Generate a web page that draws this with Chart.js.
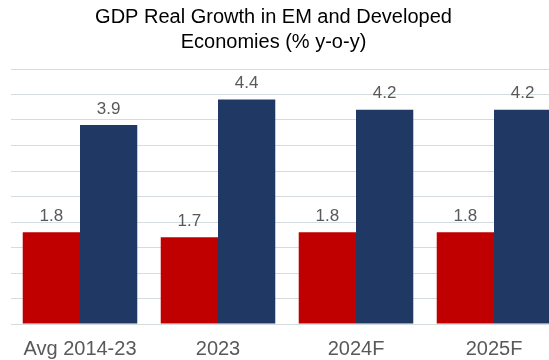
<!DOCTYPE html>
<html>
<head>
<meta charset="utf-8">
<script src="https://cdn.jsdelivr.net/npm/chart.js@4"></script>
<style>
  body{margin:0;overflow:hidden;background:#fff;}
  #wrap{width:608px;height:360px;}
</style>
</head>
<body>
<div id="wrap"><canvas id="myChart" width="608" height="360"></canvas></div>
<script>
const categorias=['Avg 2014-23','2023','2024F','2025F'];
const desarrolladas=[1.8,1.7,1.8,1.8];
const emergentes=[3.9,4.4,4.2,4.2];
const titulo=['GDP Real Growth in EM and Developed','Economies (% y-o-y)'];

//etiquetas sobre cada barra
const etiquetas={
    id:'etiquetas',
    afterDatasetsDraw(chart){
        const ctx=chart.ctx;
        ctx.save();
        ctx.font='17px "Liberation Sans", Arial, sans-serif';
        ctx.fillStyle='#595959';
        ctx.textAlign='center';
        ctx.textBaseline='middle';
        chart.data.datasets.forEach((ds,i)=>{
            chart.getDatasetMeta(i).data.forEach((bar,j)=>{
                ctx.fillText(ds.data[j].toFixed(1),bar.x,bar.y-16);
            });
        });
        ctx.restore();
    }
};

const ctx=document.getElementById('myChart');
const myChart=new Chart(ctx,{
    type:'bar',
    data:{
        labels:categorias,
        datasets:[{
            label:'Developed Economies',
            data:desarrolladas,
            backgroundColor:'#C00000',
            categoryPercentage:0.83,
            barPercentage:1
        },{
            label:'EM',
            data:emergentes,
            backgroundColor:'#203864',
            categoryPercentage:0.83,
            barPercentage:1
        }]
    },
    options:{
        responsive:false,
        animation:false,
        layout:{padding:{left:-16,right:45,top:0,bottom:-14}},
        plugins:{
            legend:{display:false},
            tooltip:{enabled:false},
            title:{
                display:true,
                text:titulo,
                color:'#000',
                font:{family:'"Liberation Sans", Arial, sans-serif',size:20,weight:'normal',lineHeight:1.25},
                padding:{top:5,bottom:14}
            }
        },
        scales:{
            x:{
                grid:{display:false,drawTicks:false},
                border:{display:false},
                ticks:{
                    color:'#595959',
                    font:{family:'"Liberation Sans", Arial, sans-serif',size:20},
                    padding:13
                }
            },
            y:{
                min:0,
                max:5,
                ticks:{display:false,stepSize:0.5},
                grid:{color:'#D5DCDF',drawTicks:false},
                border:{display:false},
                afterFit:(scale)=>{scale.width=27;}
            }
        }
    },
    plugins:[etiquetas]
});
</script>
</body>
</html>
